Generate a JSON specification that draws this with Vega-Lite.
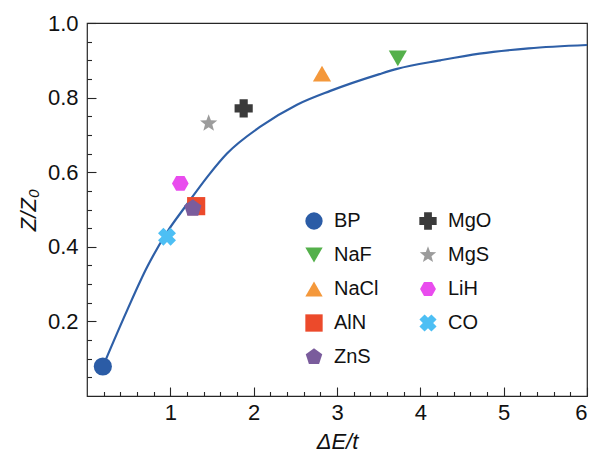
{
  "$schema": "https://vega.github.io/schema/vega-lite/v6.json",
  "width": 500,
  "height": 373,
  "autosize": {"type": "none"},
  "padding": {"left": 87, "top": 23, "right": 25, "bottom": 64},
  "background": "white",
  "config": {
    "view": {"stroke": "#262626", "strokeWidth": 1.2},
    "axis": {
      "domain": false,
      "grid": false,
      "labelFont": "Liberation Sans",
      "titleFont": "Liberation Sans",
      "labelColor": "#111111",
      "titleColor": "#111111",
      "tickColor": "#262626",
      "tickWidth": 1.1,
      "labelFontSize": 22,
      "titleFontSize": 22,
      "titleFontWeight": "normal",
      "titleFontStyle": "italic"
    },
    "legend": {
      "labelFont": "Liberation Sans",
      "labelFontSize": 20,
      "labelColor": "#111111"
    }
  },
  "layer": [
    {
      "data": {
        "values": [
          {"dEt": 0.19, "ZZ0": 0.079},
          {"dEt": 0.48, "ZZ0": 0.229},
          {"dEt": 0.72, "ZZ0": 0.345},
          {"dEt": 0.96, "ZZ0": 0.439},
          {"dEt": 1.18, "ZZ0": 0.508},
          {"dEt": 1.47, "ZZ0": 0.595},
          {"dEt": 1.68, "ZZ0": 0.65},
          {"dEt": 2.08, "ZZ0": 0.722},
          {"dEt": 2.52, "ZZ0": 0.781},
          {"dEt": 2.92, "ZZ0": 0.818},
          {"dEt": 3.51, "ZZ0": 0.863},
          {"dEt": 3.72, "ZZ0": 0.877},
          {"dEt": 4.24, "ZZ0": 0.9},
          {"dEt": 4.71, "ZZ0": 0.918},
          {"dEt": 5.3, "ZZ0": 0.932},
          {"dEt": 6.0, "ZZ0": 0.941}
        ]
      },
      "mark": {"type": "line", "color": "#2E5FA7", "strokeWidth": 2.2, "interpolate": "monotone"},
      "encoding": {
        "x": {
          "field": "dEt",
          "type": "quantitative",
          "scale": {"domain": [0, 6], "nice": false, "zero": false},
          "axis": {
            "orient": "bottom",
            "title": "ΔE/t",
            "values": [1, 2, 3, 4, 5, 6],
            "format": "d",
            "offset": -9,
            "tickSize": 9,
            "labelPadding": 6,
            "titlePadding": 8
          }
        },
        "y": {
          "field": "ZZ0",
          "type": "quantitative",
          "scale": {"domain": [0, 1], "nice": false, "zero": false},
          "axis": {
            "orient": "left",
            "title": "Z/Z₀",
            "values": [0.2, 0.4, 0.6, 0.8, 1.0],
            "format": ".1f",
            "offset": -9,
            "tickSize": 9,
            "labelPadding": 9,
            "titlePadding": 7
          }
        }
      }
    },
    {
      "data": {
        "values": [
          {"compound": "BP", "dE_t": 0.19, "Z_Z0": 0.079},
          {"compound": "NaF", "dE_t": 3.73, "Z_Z0": 0.905},
          {"compound": "NaCl", "dE_t": 2.82, "Z_Z0": 0.864},
          {"compound": "AlN", "dE_t": 1.31, "Z_Z0": 0.509},
          {"compound": "ZnS", "dE_t": 1.27, "Z_Z0": 0.503},
          {"compound": "MgO", "dE_t": 1.88, "Z_Z0": 0.771},
          {"compound": "MgS", "dE_t": 1.46, "Z_Z0": 0.731},
          {"compound": "LiH", "dE_t": 1.12, "Z_Z0": 0.57},
          {"compound": "CO", "dE_t": 0.96, "Z_Z0": 0.427}
        ]
      },
      "mark": {"type": "point", "filled": true, "opacity": 1, "size": 330},
      "encoding": {
        "x": {
          "field": "dE_t",
          "type": "quantitative",
          "axis": {
            "orient": "bottom",
            "title": null,
            "labels": false,
            "offset": -4.5,
            "tickSize": 4.5,
            "values": [0.2, 0.4, 0.6, 0.8, 1.2, 1.4, 1.6, 1.8, 2.2, 2.4, 2.6, 2.8, 3.2, 3.4, 3.6, 3.8, 4.2, 4.4, 4.6, 4.8, 5.2, 5.4, 5.6, 5.8]
          }
        },
        "y": {
          "field": "Z_Z0",
          "type": "quantitative",
          "axis": {
            "orient": "left",
            "title": null,
            "labels": false,
            "offset": -4.5,
            "tickSize": 4.5,
            "values": [0.05, 0.1, 0.15, 0.25, 0.3, 0.35, 0.45, 0.5, 0.55, 0.65, 0.7, 0.75, 0.85, 0.9, 0.95]
          }
        },
        "shape": {
          "field": "compound",
          "type": "nominal",
          "scale": {
            "domain": ["BP", "NaF", "NaCl", "AlN", "ZnS", "MgO", "MgS", "LiH", "CO"],
            "range": [
              "circle",
              "triangle-down",
              "triangle-up",
              "square",
              "M0,-1L0.951,-0.309L0.588,0.809L-0.588,0.809L-0.951,-0.309Z",
              "M-1,-0.45L-0.45,-0.45L-0.45,-1L0.45,-1L0.45,-0.45L1,-0.45L1,0.45L0.45,0.45L0.45,1L-0.45,1L-0.45,0.45L-1,0.45Z",
              "M0,-1L0.247,-0.34L0.951,-0.309L0.399,0.13L0.588,0.809L0,0.42L-0.588,0.809L-0.399,0.13L-0.951,-0.309L-0.247,-0.34Z",
              "M0.92,0L0.46,0.8L-0.46,0.8L-0.92,0L-0.46,-0.8L0.46,-0.8Z",
              "M-0.396,-0.99L0,-0.594L0.396,-0.99L0.99,-0.396L0.594,0L0.99,0.396L0.396,0.99L0,0.594L-0.396,0.99L-0.99,0.396L-0.594,0L-0.99,-0.396Z"
            ]
          },
          "legend": {
            "title": null,
            "orient": "none",
            "legendX": 217,
            "legendY": 188,
            "columns": 2,
            "columnPadding": 39,
            "rowPadding": 14,
            "padding": 0,
            "symbolSize": 300,
            "symbolStrokeWidth": 0,
            "labelOffset": 10
          }
        },
        "color": {
          "field": "compound",
          "type": "nominal",
          "scale": {
            "domain": ["BP", "NaF", "NaCl", "AlN", "ZnS", "MgO", "MgS", "LiH", "CO"],
            "range": ["#2B5CA6", "#54B04B", "#F4983B", "#EC4A2B", "#7A5C9C", "#3B3B3B", "#9C9C9C", "#E94CEE", "#4DBFF4"]
          },
          "legend": {
            "title": null,
            "orient": "none",
            "legendX": 217,
            "legendY": 188,
            "columns": 2,
            "columnPadding": 39,
            "rowPadding": 14,
            "padding": 0,
            "symbolSize": 300,
            "symbolStrokeWidth": 0,
            "labelOffset": 10
          }
        }
      }
    }
  ],
  "resolve": {"axis": {"x": "independent", "y": "independent"}}
}
